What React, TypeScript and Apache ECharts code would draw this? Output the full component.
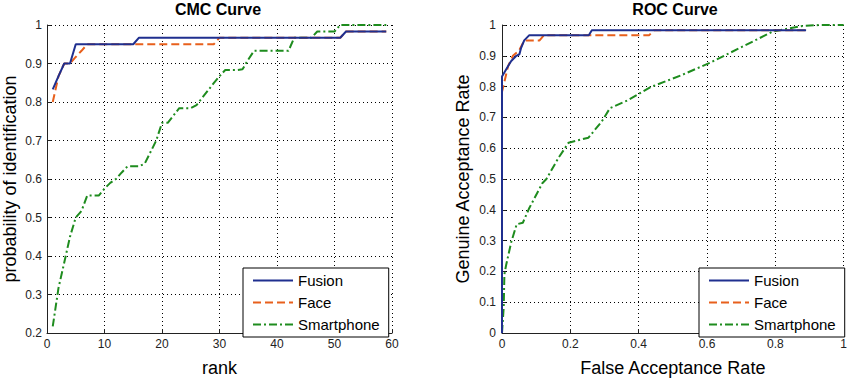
import React, { useEffect, useRef } from "react";
import * as echarts from "echarts";

// ---------- CMC data (rank 1..59) ----------
const cmcRanks: number[] = [
  1, 2, 3, 4, 5, 6, 7, 8, 9, 10, 11, 12, 13, 14, 15, 16, 17, 18, 19, 20,
  21, 22, 23, 24, 25, 26, 27, 28, 29, 30, 31, 32, 33, 34, 35, 36, 37, 38, 39, 40,
  41, 42, 43, 44, 45, 46, 47, 48, 49, 50, 51, 52, 53, 54, 55, 56, 57, 58, 59,
];
const cmcFusion: number[] = [
  0.833, 0.867, 0.9, 0.9,
  0.95, 0.95, 0.95, 0.95, 0.95, 0.95, 0.95, 0.95, 0.95, 0.95, 0.95,
  0.967, 0.967, 0.967, 0.967, 0.967, 0.967, 0.967, 0.967, 0.967, 0.967, 0.967, 0.967,
  0.967, 0.967, 0.967, 0.967, 0.967, 0.967, 0.967, 0.967, 0.967, 0.967, 0.967, 0.967,
  0.967, 0.967, 0.967, 0.967, 0.967, 0.967, 0.967, 0.967, 0.967, 0.967, 0.967, 0.967,
  0.983, 0.983, 0.983, 0.983, 0.983, 0.983, 0.983, 0.983,
];
const cmcFace: number[] = [
  0.8, 0.867, 0.9, 0.9, 0.917, 0.933,
  0.95, 0.95, 0.95, 0.95, 0.95, 0.95, 0.95, 0.95, 0.95, 0.95, 0.95, 0.95,
  0.95, 0.95, 0.95, 0.95, 0.95, 0.95, 0.95, 0.95, 0.95, 0.95, 0.95,
  0.967, 0.967, 0.967, 0.967, 0.967, 0.967, 0.967, 0.967, 0.967, 0.967, 0.967,
  0.967, 0.967, 0.967, 0.967, 0.967, 0.967, 0.967, 0.967, 0.967, 0.967, 0.967,
  0.983, 0.983, 0.983, 0.983, 0.983, 0.983, 0.983, 0.983,
];
const cmcPhone: number[] = [
  0.217, 0.317, 0.383, 0.45, 0.5, 0.517, 0.557, 0.557, 0.557, 0.575,
  0.59, 0.6, 0.617, 0.633, 0.633, 0.633, 0.64, 0.67, 0.7, 0.746,
  0.746, 0.765, 0.784, 0.784, 0.784, 0.792, 0.811, 0.83, 0.849, 0.867,
  0.883, 0.883, 0.883, 0.885, 0.91,
  0.933, 0.933, 0.933, 0.933, 0.933, 0.933, 0.933,
  0.967, 0.967, 0.967, 0.967,
  0.983, 0.983, 0.983, 0.983,
  1, 1, 1, 1, 1, 1, 1, 1, 1,
];

// ---------- ROC data ----------
const rocFusionFar: number[] = [0, 0, 0.009, 0.018, 0.027, 0.042, 0.051, 0.056, 0.065, 0.08, 0.254, 0.263, 0.89];
const rocFusionGar: number[] = [0, 0.833, 0.85, 0.867, 0.883, 0.9, 0.905, 0.926, 0.95, 0.967, 0.967, 0.983, 0.983];
const rocFaceFar: number[] = [0, 0, 0.009, 0.018, 0.032, 0.05, 0.065, 0.11, 0.123, 0.431, 0.445, 0.89];
const rocFaceGar: number[] = [0, 0.783, 0.825, 0.867, 0.9, 0.917, 0.95, 0.95, 0.967, 0.967, 0.983, 0.983];
const rocPhoneFar: number[] = [
  0, 0.005, 0.007, 0.012, 0.027, 0.043, 0.061, 0.08, 0.118, 0.13, 0.166, 0.195,
  0.253, 0.292, 0.316, 0.369, 0.436, 0.523, 0.61, 0.697, 0.793, 0.841, 0.88, 0.93, 1,
];
const rocPhoneGar: number[] = [
  0, 0.083, 0.19, 0.22, 0.295, 0.353, 0.358, 0.406, 0.486, 0.5, 0.57, 0.618,
  0.634, 0.687, 0.73, 0.756, 0.799, 0.836, 0.878, 0.926, 0.979, 0.989, 0.997, 1, 1,
];

const seriesNames = ["Fusion", "Face", "Smartphone"];
const cmcTicksX = { min: 0, max: 60, interval: 10 };
const cmcTicksY = { min: 0.2, max: 1, interval: 0.1 };
const rocTicksX = { min: 0, max: 1, interval: 0.2 };
const rocTicksY = { min: 0, max: 1, interval: 0.1 };

const FONT = "'Liberation Sans', Arial, Helvetica, sans-serif";
const colors = ["#1f2f8f", "#e8601c", "#1e8c1e"];
const dashes: any[] = ["solid", [8, 4], [8, 3, 2, 3]];

function zip(xs: number[], ys: number[]) {
  return xs.map((x, i) => [x, ys[i]]);
}

export default function App() {
  const ref = useRef<HTMLDivElement>(null);
  useEffect(() => {
    if (!ref.current) return;
    const chart = echarts.init(ref.current, null, { renderer: "svg" });

    const axisCommon = {
      axisLine: { show: true, onZero: false, lineStyle: { color: "#222", width: 1 } },
      axisTick: { show: true, inside: true, length: 4, lineStyle: { color: "#222" } },
      splitLine: { show: true, lineStyle: { color: "#000", width: 1, type: [1, 3] } },
      axisLabel: { color: "#222", fontSize: 12, fontFamily: FONT },
      nameTextStyle: { color: "#000", fontSize: 18, fontFamily: FONT },
      nameLocation: "middle" as const,
    };

    const mkSeries = (idx: number, data: number[][], axisIndex: number) => ({
      type: "line",
      name: seriesNames[idx],
      xAxisIndex: axisIndex,
      yAxisIndex: axisIndex,
      data,
      symbol: "none",
      showSymbol: false,
      lineStyle: { color: colors[idx], width: 2, type: dashes[idx] },
      itemStyle: { color: colors[idx] },
      z: 10 - idx,
    });

    const legendCommon = {
      orient: "vertical",
      data: seriesNames,
      itemWidth: 40,
      itemHeight: 14,
      itemGap: 7,
      padding: [5, 9, 5, 9],
      borderColor: "#000",
      borderWidth: 1,
      borderRadius: 0,
      backgroundColor: "#fff",
      itemStyle: { opacity: 0 },
      textStyle: { color: "#000", fontSize: 15, fontFamily: FONT },
      top: 268,
    };

    chart.setOption({
      animation: false,
      backgroundColor: "#fff",
      textStyle: { fontFamily: FONT },
      graphic: [
        {
          type: "text",
          x: 218,
          y: 9,
          style: {
            text: "CMC Curve",
            font: `bold 16px ${FONT}`,
            fill: "#000",
            textAlign: "center",
            textVerticalAlign: "middle",
          },
        },
        {
          type: "text",
          x: 675,
          y: 9,
          style: {
            text: "ROC Curve",
            font: `bold 16px ${FONT}`,
            fill: "#000",
            textAlign: "center",
            textVerticalAlign: "middle",
          },
        },
      ],
      grid: [
        { left: 46, top: 25, width: 346, height: 315, containLabel: false },
        { left: 502, top: 25, width: 346.5, height: 314.5, containLabel: false },
      ],
      xAxis: [
        {
          ...axisCommon,
          type: "value",
          gridIndex: 0,
          ...cmcTicksX,
          name: "rank",
          nameGap: 26,
          axisLabel: { ...axisCommon.axisLabel, margin: 5 },
        },
        {
          ...axisCommon,
          type: "value",
          gridIndex: 1,
          ...rocTicksX,
          name: "False Acceptance Rate",
          nameGap: 26,
          axisLabel: { ...axisCommon.axisLabel, margin: 5 },
        },
      ],
      yAxis: [
        {
          ...axisCommon,
          type: "value",
          gridIndex: 0,
          ...cmcTicksY,
          name: "probability of identification",
          nameGap: 28,
          axisLabel: { ...axisCommon.axisLabel, margin: 5 },
        },
        {
          ...axisCommon,
          type: "value",
          gridIndex: 1,
          ...rocTicksY,
          name: "Genuine Acceptance Rate",
          nameGap: 30,
          axisLabel: { ...axisCommon.axisLabel, margin: 6 },
        },
      ],
      legend: [
        { ...legendCommon, left: 243 },
        { ...legendCommon, left: 699 },
      ],
      series: [
        mkSeries(0, zip(cmcRanks, cmcFusion), 0),
        mkSeries(1, zip(cmcRanks, cmcFace), 0),
        mkSeries(2, zip(cmcRanks, cmcPhone), 0),
        mkSeries(0, zip(rocFusionFar, rocFusionGar), 1),
        mkSeries(1, zip(rocFaceFar, rocFaceGar), 1),
        mkSeries(2, zip(rocPhoneFar, rocPhoneGar), 1),
      ],
    });

    return () => chart.dispose();
  }, []);

  return (
    <div
      ref={ref}
      style={{ position: "absolute", left: 0, top: 0, width: 850, height: 382 }}
    />
  );
}
